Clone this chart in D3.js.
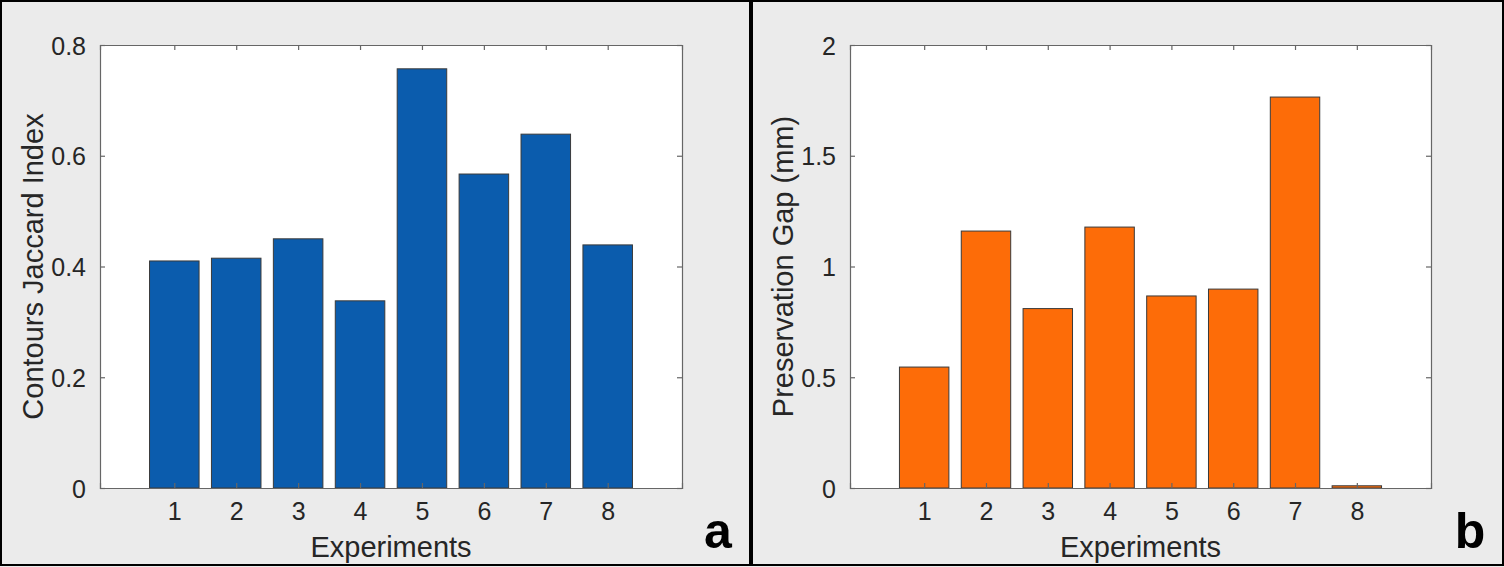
<!DOCTYPE html>
<html>
<head>
<meta charset="utf-8">
<script src="https://cdn.jsdelivr.net/npm/d3@7/dist/d3.min.js"></script>
<style>
  html, body { margin: 0; padding: 0; background: #ebebeb; }
  text { font-family: "Liberation Sans", Arial, Helvetica, sans-serif; }
</style>
</head>
<body>
<svg width="1504" height="567"></svg>
<script>
// data
const experiments = [1, 2, 3, 4, 5, 6, 7, 8]
const jaccardValues = [0.41, 0.415, 0.45, 0.338, 0.757, 0.567, 0.639, 0.439]
const gapValues = [0.546, 1.16, 0.81, 1.178, 0.867, 0.898, 1.765, 0.01]
const jaccardTicks = [0, 0.2, 0.4, 0.6, 0.8]
const gapTicks = [0, 0.5, 1, 1.5, 2]

const svg = d3.select('svg')
const W = 1504, H = 567

svg.append('rect').attr('width', W).attr('height', H).attr('fill', '#ebebeb')

const panels = [
  { left: 0, right: 751, ax0: 100, ax1: 682, values: jaccardValues, ticks: jaccardTicks,
    ymax: 0.8, fill: '#0b5cad', ylabel: 'Contours Jaccard Index', tag: 'a', tagX: 718,
    fmt: d => d === 0 ? '0' : d3.format('.1f')(d) },
  { left: 751, right: 1504, ax0: 850, ax1: 1431, values: gapValues, ticks: gapTicks,
    ymax: 2, fill: '#fd6c08', ylabel: 'Preservation Gap (mm)', tag: 'b', tagX: 1470,
    fmt: d => String(d) }
]

const axTop = 45, axBottom = 488
const tickLen = 5

panels.forEach(p => {
  const g = svg.append('g')

  // panel frame
  g.append('rect')
    .attr('x', p.left + 1).attr('y', 1)
    .attr('width', p.right - p.left - 2).attr('height', H - 3)
    .attr('fill', '#ebebeb').attr('stroke', '#000').attr('stroke-width', 2)

  const x = d3.scaleLinear().domain([-0.2, 9.2]).range([p.ax0, p.ax1])
  const y = d3.scaleLinear().domain([0, p.ymax]).range([axBottom, axTop])

  g.append('rect')
    .attr('x', p.ax0).attr('y', axTop)
    .attr('width', p.ax1 - p.ax0).attr('height', axBottom - axTop)
    .attr('fill', '#fff')

  // bars
  g.selectAll('.bar')
    .data(p.values)
    .enter()
    .append('rect')
    .attr('class', 'bar')
    .attr('x', (d, i) => x(experiments[i] - 0.4))
    .attr('width', x(0.8) - x(0))
    .attr('y', d => y(d))
    .attr('height', d => Math.max(1, y(0) - y(d)))
    .attr('fill', p.fill)
    .attr('stroke', '#3a3a3a')
    .attr('stroke-width', 1)

  // axes: bottom/left with labels, top/right just ticks (all inward)
  const axCol = '#666'
  const bottom = g.append('g').attr('transform', `translate(0,${axBottom})`)
    .call(d3.axisBottom(x).tickValues(experiments).tickSize(-tickLen).tickPadding(14))
  const top = g.append('g').attr('transform', `translate(0,${axTop})`)
    .call(d3.axisTop(x).tickValues(experiments).tickSize(-tickLen).tickFormat(''))
  const left = g.append('g').attr('transform', `translate(${p.ax0},0)`)
    .call(d3.axisLeft(y).tickValues(p.ticks).tickSize(-tickLen).tickPadding(14).tickFormat(p.fmt))
  const right = g.append('g').attr('transform', `translate(${p.ax1},0)`)
    .call(d3.axisRight(y).tickValues(p.ticks).tickSize(-tickLen).tickFormat(''))

  ;[bottom, top, left, right].forEach(a => {
    a.select('.domain').attr('stroke', axCol).attr('stroke-width', 1.2)
    a.selectAll('.tick line').attr('stroke', axCol).attr('stroke-width', 1.2)
    a.selectAll('.tick text')
      .attr('fill', '#262626')
      .style('font-size', '25px')
      .style('font-family', '"Liberation Sans", Arial, sans-serif')
  })
  bottom.selectAll('.tick text').attr('dy', '0.71em')
  left.selectAll('.tick text').attr('dy', '0.36em')

  // axis titles
  g.append('text')
    .attr('x', (p.ax0 + p.ax1) / 2).attr('y', 557)
    .attr('text-anchor', 'middle')
    .attr('fill', '#262626')
    .style('font-size', '29px')
    .text('Experiments')

  g.append('text')
    .attr('transform', `translate(${p.ax0 - 57},${(axTop + axBottom) / 2}) rotate(-90)`)
    .attr('text-anchor', 'middle')
    .attr('fill', '#262626')
    .style('font-size', '29px')
    .text(p.ylabel)

  // panel letter
  g.append('text')
    .attr('x', p.tagX).attr('y', 548)
    .attr('text-anchor', 'middle')
    .attr('fill', '#000')
    .style('font-size', '50px')
    .style('font-weight', 'bold')
    .text(p.tag)
})
</script>
</body>
</html>
